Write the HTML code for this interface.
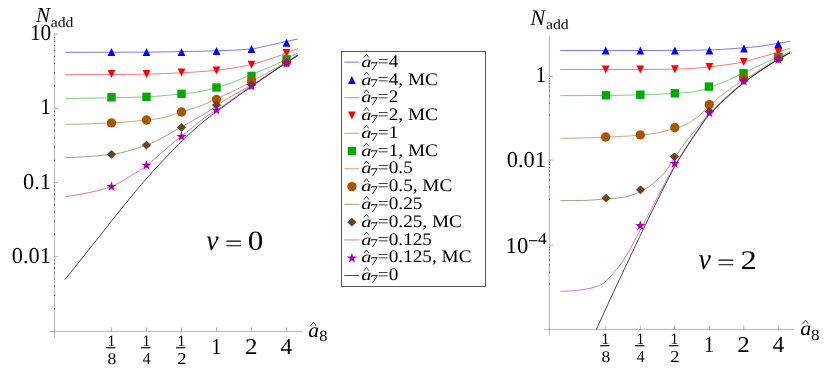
<!DOCTYPE html>
<html lang="en">
<head>
<meta charset="utf-8">
<title>N_add vs a8</title>
<style>
html, body { margin: 0; padding: 0; background: #ffffff; }
body { width: 830px; height: 375px; position: relative; overflow: hidden;
       font-family: "Liberation Serif", serif; }
svg text { fill: #000; }
</style>
</head>
<body>
<svg width="830" height="375" viewBox="0 0 830 375" style="position:absolute;left:0;top:0;display:block;will-change:transform;text-rendering:geometricPrecision" font-family='"Liberation Serif", serif'>
<rect x="0" y="0" width="830" height="375" fill="#ffffff"/>
<g stroke="#000" stroke-width="0.3" fill="none">
<path d="M54.5 33.5 V337.4"/>
<path d="M49 331.4 H302.4"/>
<path d="M111.5 331.4 v-4"/>
<path d="M146.5 331.4 v-4"/>
<path d="M181.5 331.4 v-4"/>
<path d="M216.5 331.4 v-4"/>
<path d="M251.5 331.4 v-4"/>
<path d="M286.5 331.4 v-4"/>
<path d="M54.5 34.1 h3.6"/>
<path d="M54.5 108.3 h3.6"/>
<path d="M54.5 182.5 h3.6"/>
<path d="M54.5 256.7 h3.6"/>
</g>
<g stroke="#000" stroke-opacity="0.8" stroke-width="0.75" fill="none">
<path d="M54 85.96 h1.1"/>
<path d="M54 72.9 h1.1"/>
<path d="M54 63.63 h1.1"/>
<path d="M54 56.44 h1.1"/>
<path d="M54 50.56 h1.1"/>
<path d="M54 45.59 h1.1"/>
<path d="M54 41.29 h1.1"/>
<path d="M54 37.5 h1.1"/>
<path d="M54 160.16 h1.1"/>
<path d="M54 147.1 h1.1"/>
<path d="M54 137.83 h1.1"/>
<path d="M54 130.64 h1.1"/>
<path d="M54 124.76 h1.1"/>
<path d="M54 119.79 h1.1"/>
<path d="M54 115.49 h1.1"/>
<path d="M54 111.7 h1.1"/>
<path d="M54 234.36 h1.1"/>
<path d="M54 221.3 h1.1"/>
<path d="M54 212.03 h1.1"/>
<path d="M54 204.84 h1.1"/>
<path d="M54 198.96 h1.1"/>
<path d="M54 193.99 h1.1"/>
<path d="M54 189.69 h1.1"/>
<path d="M54 185.9 h1.1"/>
<path d="M54 308.56 h1.1"/>
<path d="M54 295.5 h1.1"/>
<path d="M54 286.23 h1.1"/>
<path d="M54 279.04 h1.1"/>
<path d="M54 273.16 h1.1"/>
<path d="M54 268.19 h1.1"/>
<path d="M54 263.89 h1.1"/>
<path d="M54 260.1 h1.1"/>
</g>
<g stroke="#000" stroke-width="0.3" fill="none">
<path d="M549.4 35.6 V335.6"/>
<path d="M544 329.4 H794"/>
<path d="M605.5 329.4 v-3.6"/>
<path d="M640.4 329.4 v-3.6"/>
<path d="M674.5 329.4 v-3.6"/>
<path d="M709.4 329.4 v-3.6"/>
<path d="M743.7 329.4 v-3.6"/>
<path d="M778.4 329.4 v-3.6"/>
<path d="M549.4 76.4 h3.6"/>
<path d="M549.4 160.1 h3.6"/>
<path d="M549.4 245.2 h3.6"/>
</g>
<g stroke="#000" stroke-opacity="0.8" stroke-width="0.75" fill="none">
<path d="M548.9 114.94 h1.1"/>
<path d="M548.9 103.11 h1.1"/>
<path d="M548.9 96.01 h1.1"/>
<path d="M548.9 90.91 h1.1"/>
<path d="M548.9 86.94 h1.1"/>
<path d="M548.9 83.68 h1.1"/>
<path d="M548.9 80.92 h1.1"/>
<path d="M548.9 78.52 h1.1"/>
<path d="M548.9 199.28 h1.1"/>
<path d="M548.9 187.26 h1.1"/>
<path d="M548.9 180.04 h1.1"/>
<path d="M548.9 174.86 h1.1"/>
<path d="M548.9 170.81 h1.1"/>
<path d="M548.9 167.5 h1.1"/>
<path d="M548.9 164.69 h1.1"/>
<path d="M548.9 162.25 h1.1"/>
<path d="M548.9 284.06 h1.1"/>
<path d="M548.9 272.14 h1.1"/>
<path d="M548.9 264.97 h1.1"/>
<path d="M548.9 259.83 h1.1"/>
<path d="M548.9 255.83 h1.1"/>
<path d="M548.9 252.54 h1.1"/>
<path d="M548.9 249.75 h1.1"/>
<path d="M548.9 247.34 h1.1"/>
</g>
<g fill="none" stroke-width="0.55" stroke-linejoin="round">
<path d="M65.3 52.25 L67.25 52.25 L69.21 52.25 L71.16 52.25 L73.12 52.25 L75.07 52.25 L77.03 52.25 L78.98 52.24 L80.94 52.24 L82.89 52.24 L84.85 52.24 L86.8 52.24 L88.76 52.23 L90.71 52.23 L92.66 52.23 L94.62 52.23 L96.57 52.22 L98.53 52.22 L100.48 52.22 L102.44 52.21 L104.39 52.21 L106.35 52.21 L108.3 52.21 L110.26 52.2 L112.21 52.2 L114.17 52.2 L116.12 52.19 L118.07 52.19 L120.03 52.18 L121.98 52.18 L123.94 52.18 L125.89 52.17 L127.85 52.17 L129.8 52.16 L131.76 52.16 L133.71 52.15 L135.67 52.14 L137.62 52.14 L139.58 52.13 L141.53 52.12 L143.48 52.11 L145.44 52.1 L147.39 52.1 L149.35 52.08 L151.3 52.07 L153.26 52.05 L155.21 52.03 L157.17 52 L159.12 51.98 L161.08 51.95 L163.03 51.92 L164.99 51.89 L166.94 51.86 L168.89 51.82 L170.85 51.79 L172.8 51.76 L174.76 51.72 L176.71 51.69 L178.67 51.65 L180.62 51.62 L182.58 51.58 L184.53 51.55 L186.49 51.51 L188.44 51.48 L190.4 51.44 L192.35 51.4 L194.31 51.36 L196.26 51.32 L198.21 51.28 L200.17 51.24 L202.12 51.19 L204.08 51.15 L206.03 51.1 L207.99 51.05 L209.94 51 L211.9 50.94 L213.85 50.88 L215.81 50.82 L217.76 50.76 L219.72 50.69 L221.67 50.63 L223.62 50.56 L225.58 50.49 L227.53 50.41 L229.49 50.33 L231.44 50.24 L233.4 50.15 L235.35 50.05 L237.31 49.94 L239.26 49.83 L241.22 49.71 L243.17 49.58 L245.13 49.44 L247.08 49.28 L249.03 49.12 L250.99 48.95 L252.94 48.73 L254.9 48.41 L256.85 48.02 L258.81 47.59 L260.76 47.16 L262.72 46.75 L264.67 46.35 L266.63 45.93 L268.58 45.51 L270.54 45.07 L272.49 44.64 L274.44 44.19 L276.4 43.75 L278.35 43.3 L280.31 42.86 L282.26 42.41 L284.22 41.97 L286.17 41.53 L288.13 41.09 L290.08 40.65 L292.04 40.22 L293.99 39.78 L295.95 39.34 L297.9 38.9" stroke="#0000ff"/>
<path d="M65.3 74.6 L67.25 74.6 L69.21 74.6 L71.16 74.6 L73.12 74.6 L75.07 74.59 L77.03 74.59 L78.98 74.59 L80.94 74.59 L82.89 74.58 L84.85 74.58 L86.8 74.58 L88.76 74.57 L90.71 74.57 L92.66 74.56 L94.62 74.56 L96.57 74.55 L98.53 74.54 L100.48 74.54 L102.44 74.53 L104.39 74.53 L106.35 74.52 L108.3 74.51 L110.26 74.5 L112.21 74.5 L114.17 74.49 L116.12 74.48 L118.07 74.46 L120.03 74.45 L121.98 74.43 L123.94 74.41 L125.89 74.39 L127.85 74.37 L129.8 74.35 L131.76 74.33 L133.71 74.3 L135.67 74.27 L137.62 74.24 L139.58 74.21 L141.53 74.18 L143.48 74.15 L145.44 74.12 L147.39 74.08 L149.35 74.04 L151.3 74 L153.26 73.95 L155.21 73.89 L157.17 73.83 L159.12 73.77 L161.08 73.7 L163.03 73.63 L164.99 73.55 L166.94 73.47 L168.89 73.39 L170.85 73.3 L172.8 73.22 L174.76 73.13 L176.71 73.03 L178.67 72.94 L180.62 72.84 L182.58 72.75 L184.53 72.64 L186.49 72.54 L188.44 72.43 L190.4 72.31 L192.35 72.19 L194.31 72.06 L196.26 71.93 L198.21 71.79 L200.17 71.64 L202.12 71.49 L204.08 71.34 L206.03 71.18 L207.99 71.01 L209.94 70.83 L211.9 70.65 L213.85 70.46 L215.81 70.27 L217.76 70.07 L219.72 69.85 L221.67 69.62 L223.62 69.37 L225.58 69.11 L227.53 68.84 L229.49 68.55 L231.44 68.25 L233.4 67.94 L235.35 67.61 L237.31 67.28 L239.26 66.93 L241.22 66.56 L243.17 66.19 L245.13 65.81 L247.08 65.41 L249.03 65 L250.99 64.59 L252.94 64.15 L254.9 63.66 L256.85 63.13 L258.81 62.57 L260.76 61.98 L262.72 61.36 L264.67 60.74 L266.63 60.11 L268.58 59.48 L270.54 58.83 L272.49 58.17 L274.44 57.49 L276.4 56.79 L278.35 56.08 L280.31 55.35 L282.26 54.62 L284.22 53.89 L286.17 53.15 L288.13 52.4 L290.08 51.64 L292.04 50.87 L293.99 50.09 L295.95 49.3 L297.9 48.5" stroke="#ff0000"/>
<path d="M65.3 98.4 L67.25 98.39 L69.21 98.38 L71.16 98.37 L73.12 98.35 L75.07 98.34 L77.03 98.32 L78.98 98.3 L80.94 98.28 L82.89 98.25 L84.85 98.23 L86.8 98.2 L88.76 98.18 L90.71 98.15 L92.66 98.12 L94.62 98.09 L96.57 98.06 L98.53 98.03 L100.48 97.99 L102.44 97.96 L104.39 97.93 L106.35 97.89 L108.3 97.86 L110.26 97.82 L112.21 97.79 L114.17 97.75 L116.12 97.71 L118.07 97.67 L120.03 97.63 L121.98 97.58 L123.94 97.54 L125.89 97.49 L127.85 97.44 L129.8 97.38 L131.76 97.33 L133.71 97.27 L135.67 97.21 L137.62 97.14 L139.58 97.07 L141.53 97 L143.48 96.92 L145.44 96.84 L147.39 96.76 L149.35 96.66 L151.3 96.55 L153.26 96.43 L155.21 96.3 L157.17 96.16 L159.12 96 L161.08 95.84 L163.03 95.67 L164.99 95.5 L166.94 95.32 L168.89 95.13 L170.85 94.95 L172.8 94.76 L174.76 94.56 L176.71 94.37 L178.67 94.18 L180.62 93.99 L182.58 93.8 L184.53 93.61 L186.49 93.41 L188.44 93.21 L190.4 92.99 L192.35 92.76 L194.31 92.5 L196.26 92.21 L198.21 91.88 L200.17 91.52 L202.12 91.13 L204.08 90.71 L206.03 90.26 L207.99 89.79 L209.94 89.31 L211.9 88.81 L213.85 88.3 L215.81 87.78 L217.76 87.26 L219.72 86.69 L221.67 86.1 L223.62 85.48 L225.58 84.83 L227.53 84.16 L229.49 83.48 L231.44 82.78 L233.4 82.05 L235.35 81.29 L237.31 80.51 L239.26 79.71 L241.22 78.9 L243.17 78.08 L245.13 77.25 L247.08 76.42 L249.03 75.59 L250.99 74.77 L252.94 73.96 L254.9 73.16 L256.85 72.37 L258.81 71.58 L260.76 70.8 L262.72 70.01 L264.67 69.21 L266.63 68.41 L268.58 67.59 L270.54 66.76 L272.49 65.9 L274.44 65.03 L276.4 64.13 L278.35 63.21 L280.31 62.24 L282.26 61.19 L284.22 60.07 L286.17 58.97 L288.13 57.92 L290.08 56.89 L292.04 55.87 L293.99 54.86 L295.95 53.87 L297.9 52.9" stroke="#00aa00"/>
<path d="M65.3 124.3 L67.25 124.3 L69.21 124.28 L71.16 124.27 L73.12 124.24 L75.07 124.21 L77.03 124.17 L78.98 124.13 L80.94 124.08 L82.89 124.03 L84.85 123.97 L86.8 123.91 L88.76 123.85 L90.71 123.78 L92.66 123.71 L94.62 123.63 L96.57 123.55 L98.53 123.47 L100.48 123.39 L102.44 123.31 L104.39 123.22 L106.35 123.13 L108.3 123.04 L110.26 122.96 L112.21 122.87 L114.17 122.77 L116.12 122.66 L118.07 122.54 L120.03 122.4 L121.98 122.26 L123.94 122.11 L125.89 121.95 L127.85 121.79 L129.8 121.62 L131.76 121.44 L133.71 121.26 L135.67 121.07 L137.62 120.88 L139.58 120.69 L141.53 120.5 L143.48 120.3 L145.44 120.11 L147.39 119.91 L149.35 119.72 L151.3 119.52 L153.26 119.31 L155.21 119.08 L157.17 118.83 L159.12 118.54 L161.08 118.21 L163.03 117.8 L164.99 117.31 L166.94 116.76 L168.89 116.17 L170.85 115.53 L172.8 114.87 L174.76 114.2 L176.71 113.52 L178.67 112.86 L180.62 112.21 L182.58 111.6 L184.53 111 L186.49 110.4 L188.44 109.81 L190.4 109.21 L192.35 108.6 L194.31 107.97 L196.26 107.33 L198.21 106.67 L200.17 105.98 L202.12 105.25 L204.08 104.49 L206.03 103.64 L207.99 102.72 L209.94 101.74 L211.9 100.74 L213.85 99.76 L215.81 98.83 L217.76 97.96 L219.72 97.13 L221.67 96.32 L223.62 95.52 L225.58 94.72 L227.53 93.9 L229.49 93.03 L231.44 92.13 L233.4 91.19 L235.35 90.24 L237.31 89.26 L239.26 88.25 L241.22 87.23 L243.17 86.19 L245.13 85.13 L247.08 84.02 L249.03 82.87 L250.99 81.73 L252.94 80.63 L254.9 79.54 L256.85 78.47 L258.81 77.41 L260.76 76.35 L262.72 75.3 L264.67 74.25 L266.63 73.2 L268.58 72.15 L270.54 71.09 L272.49 70.03 L274.44 68.95 L276.4 67.86 L278.35 66.75 L280.31 65.62 L282.26 64.46 L284.22 63.27 L286.17 62.08 L288.13 60.89 L290.08 59.7 L292.04 58.5 L293.99 57.31 L295.95 56.11 L297.9 54.9" stroke="#aa5500"/>
<path d="M65.3 157.5 L67.25 157.49 L69.21 157.47 L71.16 157.43 L73.12 157.38 L75.07 157.31 L77.03 157.24 L78.98 157.14 L80.94 157.04 L82.89 156.93 L84.85 156.8 L86.8 156.67 L88.76 156.52 L90.71 156.37 L92.66 156.2 L94.62 156.03 L96.57 155.85 L98.53 155.67 L100.48 155.48 L102.44 155.28 L104.39 155.08 L106.35 154.87 L108.3 154.66 L110.26 154.44 L112.21 154.22 L114.17 153.96 L116.12 153.66 L118.07 153.32 L120.03 152.94 L121.98 152.52 L123.94 152.07 L125.89 151.59 L127.85 151.09 L129.8 150.55 L131.76 149.99 L133.71 149.41 L135.67 148.8 L137.62 148.18 L139.58 147.55 L141.53 146.9 L143.48 146.24 L145.44 145.57 L147.39 144.88 L149.35 144.11 L151.3 143.27 L153.26 142.36 L155.21 141.41 L157.17 140.43 L159.12 139.44 L161.08 138.45 L163.03 137.42 L164.99 136.36 L166.94 135.26 L168.89 134.15 L170.85 133.01 L172.8 131.87 L174.76 130.72 L176.71 129.56 L178.67 128.42 L180.62 127.29 L182.58 126.17 L184.53 125.08 L186.49 124 L188.44 122.93 L190.4 121.86 L192.35 120.79 L194.31 119.72 L196.26 118.64 L198.21 117.55 L200.17 116.44 L202.12 115.3 L204.08 114.14 L206.03 112.94 L207.99 111.71 L209.94 110.44 L211.9 109.04 L213.85 107.54 L215.81 106.08 L217.76 104.76 L219.72 103.48 L221.67 102.23 L223.62 101.01 L225.58 99.81 L227.53 98.64 L229.49 97.48 L231.44 96.34 L233.4 95.22 L235.35 94.1 L237.31 93 L239.26 91.9 L241.22 90.81 L243.17 89.72 L245.13 88.63 L247.08 87.58 L249.03 86.55 L250.99 85.49 L252.94 84.36 L254.9 83.18 L256.85 81.98 L258.81 80.75 L260.76 79.5 L262.72 78.22 L264.67 76.93 L266.63 75.63 L268.58 74.31 L270.54 72.98 L272.49 71.66 L274.44 70.33 L276.4 69 L278.35 67.68 L280.31 66.36 L282.26 65.06 L284.22 63.78 L286.17 62.51 L288.13 61.26 L290.08 60.02 L292.04 58.78 L293.99 57.55 L295.95 56.32 L297.9 55.1" stroke="#664422"/>
<path d="M65.3 196.5 L67.25 196.3 L69.21 196.07 L71.16 195.81 L73.12 195.53 L75.07 195.24 L77.03 194.92 L78.98 194.58 L80.94 194.23 L82.89 193.86 L84.85 193.47 L86.8 193.08 L88.76 192.67 L90.71 192.25 L92.66 191.82 L94.62 191.39 L96.57 190.94 L98.53 190.46 L100.48 189.95 L102.44 189.41 L104.39 188.84 L106.35 188.23 L108.3 187.58 L110.26 186.9 L112.21 186.17 L114.17 185.35 L116.12 184.45 L118.07 183.48 L120.03 182.44 L121.98 181.36 L123.94 180.24 L125.89 179 L127.85 177.64 L129.8 176.33 L131.76 175.14 L133.71 174.03 L135.67 172.95 L137.62 171.85 L139.58 170.67 L141.53 169.36 L143.48 167.87 L145.44 166.29 L147.39 164.72 L149.35 163.13 L151.3 161.52 L153.26 159.89 L155.21 158.24 L157.17 156.58 L159.12 154.92 L161.08 153.24 L163.03 151.57 L164.99 149.89 L166.94 148.22 L168.89 146.55 L170.85 144.89 L172.8 143.24 L174.76 141.61 L176.71 140 L178.67 138.41 L180.62 136.84 L182.58 135.31 L184.53 133.79 L186.49 132.28 L188.44 130.75 L190.4 129.2 L192.35 127.62 L194.31 126.01 L196.26 124.4 L198.21 122.8 L200.17 121.22 L202.12 119.67 L204.08 118.16 L206.03 116.71 L207.99 115.33 L209.94 114.04 L211.9 112.87 L213.85 111.81 L215.81 110.72 L217.76 109.51 L219.72 108.24 L221.67 106.92 L223.62 105.56 L225.58 104.17 L227.53 102.76 L229.49 101.32 L231.44 99.87 L233.4 98.42 L235.35 96.97 L237.31 95.53 L239.26 94.11 L241.22 92.71 L243.17 91.34 L245.13 90.02 L247.08 88.74 L249.03 87.49 L250.99 86.23 L252.94 84.95 L254.9 83.66 L256.85 82.36 L258.81 81.06 L260.76 79.75 L262.72 78.43 L264.67 77.11 L266.63 75.79 L268.58 74.47 L270.54 73.15 L272.49 71.83 L274.44 70.51 L276.4 69.2 L278.35 67.89 L280.31 66.58 L282.26 65.28 L284.22 63.99 L286.17 62.71 L288.13 61.44 L290.08 60.18 L292.04 58.93 L293.99 57.68 L295.95 56.44 L297.9 55.2" stroke="#aa00aa"/>
<path d="M65 279.7 L66.96 277.23 L68.91 274.77 L70.87 272.3 L72.83 269.84 L74.79 267.37 L76.74 264.9 L78.7 262.44 L80.66 259.97 L82.61 257.5 L84.57 255.04 L86.53 252.57 L88.49 250.1 L90.44 247.64 L92.4 245.17 L94.36 242.7 L96.31 240.23 L98.27 237.76 L100.23 235.28 L102.19 232.8 L104.14 230.31 L106.1 227.83 L108.06 225.35 L110.01 222.87 L111.97 220.4 L113.93 217.94 L115.89 215.49 L117.84 213.06 L119.8 210.64 L121.76 208.23 L123.71 205.81 L125.67 203.4 L127.63 201 L129.59 198.6 L131.54 196.21 L133.5 193.84 L135.46 191.48 L137.41 189.14 L139.37 186.82 L141.33 184.53 L143.29 182.25 L145.24 180.01 L147.2 177.79 L149.16 175.58 L151.11 173.4 L153.07 171.24 L155.03 169.09 L156.99 166.96 L158.94 164.85 L160.9 162.75 L162.86 160.67 L164.81 158.61 L166.77 156.56 L168.73 154.52 L170.69 152.49 L172.64 150.48 L174.6 148.47 L176.56 146.49 L178.51 144.52 L180.47 142.57 L182.43 140.65 L184.39 138.75 L186.34 136.88 L188.3 135.04 L190.26 133.22 L192.21 131.42 L194.17 129.64 L196.13 127.88 L198.09 126.16 L200.04 124.46 L202 122.81 L203.96 121.19 L205.91 119.61 L207.87 118.09 L209.83 116.61 L211.79 115.16 L213.74 113.72 L215.7 112.29 L217.66 110.85 L219.61 109.4 L221.57 107.97 L223.53 106.53 L225.49 105.1 L227.44 103.68 L229.4 102.26 L231.36 100.84 L233.31 99.42 L235.27 98.01 L237.23 96.61 L239.19 95.21 L241.14 93.81 L243.1 92.42 L245.06 91.03 L247.01 89.65 L248.97 88.27 L250.93 86.9 L252.89 85.53 L254.84 84.17 L256.8 82.81 L258.76 81.45 L260.71 80.09 L262.67 78.75 L264.63 77.4 L266.59 76.06 L268.54 74.72 L270.5 73.39 L272.46 72.06 L274.41 70.74 L276.37 69.43 L278.33 68.11 L280.29 66.81 L282.24 65.51 L284.2 64.21 L286.16 62.93 L288.11 61.65 L290.07 60.38 L292.03 59.12 L293.99 57.88 L295.94 56.64 L297.9 55.4" stroke="#000000" stroke-width="0.72"/>
<path d="M560.4 50.5 L562.05 50.5 L563.7 50.5 L565.36 50.5 L567.01 50.5 L568.66 50.5 L570.31 50.5 L571.96 50.5 L573.61 50.5 L575.27 50.5 L576.92 50.5 L578.57 50.5 L580.22 50.5 L581.87 50.5 L583.53 50.5 L585.18 50.5 L586.83 50.5 L588.48 50.5 L590.13 50.5 L591.78 50.5 L593.44 50.5 L595.09 50.5 L596.74 50.5 L598.39 50.5 L600.04 50.5 L601.69 50.5 L603.35 50.5 L605 50.5 L606.65 50.5 L608.3 50.5 L609.95 50.5 L611.61 50.5 L613.26 50.5 L614.91 50.5 L616.56 50.5 L618.21 50.5 L619.86 50.5 L621.52 50.5 L623.17 50.5 L624.82 50.5 L626.47 50.5 L628.12 50.5 L629.78 50.5 L631.43 50.5 L633.08 50.5 L634.73 50.5 L636.38 50.5 L638.03 50.5 L639.69 50.5 L641.34 50.5 L642.99 50.5 L644.64 50.5 L646.29 50.5 L647.95 50.5 L649.6 50.5 L651.25 50.49 L652.9 50.49 L654.55 50.49 L656.2 50.49 L657.86 50.49 L659.51 50.48 L661.16 50.48 L662.81 50.48 L664.46 50.47 L666.12 50.47 L667.77 50.47 L669.42 50.46 L671.07 50.46 L672.72 50.46 L674.37 50.45 L676.03 50.45 L677.68 50.44 L679.33 50.43 L680.98 50.42 L682.63 50.4 L684.28 50.38 L685.94 50.36 L687.59 50.34 L689.24 50.32 L690.89 50.29 L692.54 50.26 L694.2 50.24 L695.85 50.2 L697.5 50.17 L699.15 50.14 L700.8 50.1 L702.45 50.07 L704.11 50.03 L705.76 49.99 L707.41 49.95 L709.06 49.91 L710.71 49.86 L712.37 49.81 L714.02 49.75 L715.67 49.68 L717.32 49.61 L718.97 49.53 L720.62 49.44 L722.28 49.34 L723.93 49.24 L725.58 49.14 L727.23 49.03 L728.88 48.92 L730.54 48.81 L732.19 48.69 L733.84 48.57 L735.49 48.44 L737.14 48.32 L738.79 48.2 L740.45 48.07 L742.1 47.94 L743.75 47.82 L745.4 47.69 L747.05 47.56 L748.71 47.43 L750.36 47.29 L752.01 47.14 L753.66 46.98 L755.31 46.82 L756.96 46.64 L758.62 46.46 L760.27 46.27 L761.92 46.05 L763.57 45.81 L765.22 45.55 L766.87 45.27 L768.53 44.98 L770.18 44.68 L771.83 44.37 L773.48 44.07 L775.13 43.77 L776.79 43.47 L778.44 43.19 L780.09 42.92 L781.74 42.65 L783.39 42.38 L785.04 42.11 L786.7 41.84 L788.35 41.57 L790 41.3" stroke="#0000ff"/>
<path d="M560.4 69.5 L562.05 69.5 L563.7 69.5 L565.36 69.5 L567.01 69.5 L568.66 69.5 L570.31 69.5 L571.96 69.5 L573.61 69.5 L575.27 69.5 L576.92 69.5 L578.57 69.5 L580.22 69.5 L581.87 69.5 L583.53 69.5 L585.18 69.5 L586.83 69.5 L588.48 69.5 L590.13 69.5 L591.78 69.5 L593.44 69.5 L595.09 69.5 L596.74 69.5 L598.39 69.5 L600.04 69.5 L601.69 69.5 L603.35 69.5 L605 69.5 L606.65 69.5 L608.3 69.5 L609.95 69.5 L611.61 69.5 L613.26 69.5 L614.91 69.5 L616.56 69.49 L618.21 69.49 L619.86 69.49 L621.52 69.49 L623.17 69.49 L624.82 69.48 L626.47 69.48 L628.12 69.48 L629.78 69.47 L631.43 69.47 L633.08 69.47 L634.73 69.46 L636.38 69.46 L638.03 69.46 L639.69 69.45 L641.34 69.45 L642.99 69.44 L644.64 69.44 L646.29 69.43 L647.95 69.42 L649.6 69.41 L651.25 69.4 L652.9 69.39 L654.55 69.38 L656.2 69.37 L657.86 69.35 L659.51 69.34 L661.16 69.32 L662.81 69.31 L664.46 69.29 L666.12 69.27 L667.77 69.25 L669.42 69.23 L671.07 69.2 L672.72 69.18 L674.37 69.16 L676.03 69.13 L677.68 69.09 L679.33 69.04 L680.98 68.97 L682.63 68.9 L684.28 68.82 L685.94 68.74 L687.59 68.64 L689.24 68.54 L690.89 68.44 L692.54 68.33 L694.2 68.21 L695.85 68.1 L697.5 67.98 L699.15 67.86 L700.8 67.74 L702.45 67.6 L704.11 67.45 L705.76 67.29 L707.41 67.12 L709.06 66.94 L710.71 66.75 L712.37 66.56 L714.02 66.37 L715.67 66.17 L717.32 65.97 L718.97 65.77 L720.62 65.56 L722.28 65.34 L723.93 65.12 L725.58 64.89 L727.23 64.65 L728.88 64.41 L730.54 64.16 L732.19 63.9 L733.84 63.64 L735.49 63.36 L737.14 63.08 L738.79 62.79 L740.45 62.48 L742.1 62.17 L743.75 61.85 L745.4 61.5 L747.05 61.12 L748.71 60.69 L750.36 60.24 L752.01 59.77 L753.66 59.28 L755.31 58.78 L756.96 58.29 L758.62 57.8 L760.27 57.32 L761.92 56.86 L763.57 56.39 L765.22 55.92 L766.87 55.44 L768.53 54.97 L770.18 54.49 L771.83 54 L773.48 53.51 L775.13 53.01 L776.79 52.5 L778.44 51.99 L780.09 51.46 L781.74 50.92 L783.39 50.38 L785.04 49.82 L786.7 49.25 L788.35 48.68 L790 48.1" stroke="#ff0000"/>
<path d="M560.4 95.6 L562.05 95.6 L563.7 95.6 L565.36 95.6 L567.01 95.6 L568.66 95.59 L570.31 95.59 L571.96 95.59 L573.61 95.58 L575.27 95.58 L576.92 95.58 L578.57 95.57 L580.22 95.57 L581.87 95.56 L583.53 95.56 L585.18 95.55 L586.83 95.54 L588.48 95.54 L590.13 95.53 L591.78 95.52 L593.44 95.51 L595.09 95.51 L596.74 95.5 L598.39 95.49 L600.04 95.48 L601.69 95.47 L603.35 95.46 L605 95.45 L606.65 95.44 L608.3 95.43 L609.95 95.41 L611.61 95.4 L613.26 95.38 L614.91 95.35 L616.56 95.33 L618.21 95.3 L619.86 95.27 L621.52 95.24 L623.17 95.21 L624.82 95.17 L626.47 95.14 L628.12 95.1 L629.78 95.06 L631.43 95.02 L633.08 94.98 L634.73 94.94 L636.38 94.9 L638.03 94.86 L639.69 94.81 L641.34 94.77 L642.99 94.72 L644.64 94.67 L646.29 94.62 L647.95 94.56 L649.6 94.5 L651.25 94.43 L652.9 94.37 L654.55 94.3 L656.2 94.23 L657.86 94.15 L659.51 94.08 L661.16 94 L662.81 93.92 L664.46 93.84 L666.12 93.75 L667.77 93.67 L669.42 93.59 L671.07 93.5 L672.72 93.41 L674.37 93.32 L676.03 93.23 L677.68 93.15 L679.33 93.06 L680.98 92.97 L682.63 92.87 L684.28 92.77 L685.94 92.65 L687.59 92.52 L689.24 92.37 L690.89 92.2 L692.54 91.99 L694.2 91.73 L695.85 91.42 L697.5 91.08 L699.15 90.71 L700.8 90.31 L702.45 89.88 L704.11 89.43 L705.76 88.97 L707.41 88.44 L709.06 87.8 L710.71 87.1 L712.37 86.41 L714.02 85.78 L715.67 85.17 L717.32 84.57 L718.97 83.97 L720.62 83.36 L722.28 82.73 L723.93 82.07 L725.58 81.38 L727.23 80.66 L728.88 79.92 L730.54 79.16 L732.19 78.38 L733.84 77.59 L735.49 76.79 L737.14 75.99 L738.79 75.19 L740.45 74.39 L742.1 73.6 L743.75 72.82 L745.4 72.04 L747.05 71.27 L748.71 70.49 L750.36 69.71 L752.01 68.93 L753.66 68.15 L755.31 67.38 L756.96 66.61 L758.62 65.84 L760.27 65.08 L761.92 64.32 L763.57 63.57 L765.22 62.82 L766.87 62.08 L768.53 61.34 L770.18 60.6 L771.83 59.86 L773.48 59.12 L775.13 58.38 L776.79 57.63 L778.44 56.88 L780.09 56.13 L781.74 55.38 L783.39 54.63 L785.04 53.87 L786.7 53.12 L788.35 52.36 L790 51.6" stroke="#00aa00"/>
<path d="M560.4 138.4 L562.05 138.38 L563.7 138.35 L565.36 138.32 L567.01 138.29 L568.66 138.26 L570.31 138.23 L571.96 138.19 L573.61 138.15 L575.27 138.12 L576.92 138.08 L578.57 138.04 L580.22 137.99 L581.87 137.95 L583.53 137.9 L585.18 137.86 L586.83 137.8 L588.48 137.75 L590.13 137.7 L591.78 137.64 L593.44 137.58 L595.09 137.52 L596.74 137.46 L598.39 137.39 L600.04 137.33 L601.69 137.26 L603.35 137.19 L605 137.12 L606.65 137.05 L608.3 136.98 L609.95 136.91 L611.61 136.84 L613.26 136.77 L614.91 136.69 L616.56 136.62 L618.21 136.54 L619.86 136.46 L621.52 136.38 L623.17 136.29 L624.82 136.21 L626.47 136.11 L628.12 136.02 L629.78 135.92 L631.43 135.82 L633.08 135.71 L634.73 135.6 L636.38 135.48 L638.03 135.35 L639.69 135.23 L641.34 135.09 L642.99 134.93 L644.64 134.75 L646.29 134.56 L647.95 134.35 L649.6 134.13 L651.25 133.89 L652.9 133.64 L654.55 133.37 L656.2 133.09 L657.86 132.77 L659.51 132.42 L661.16 132.05 L662.81 131.65 L664.46 131.22 L666.12 130.78 L667.77 130.33 L669.42 129.86 L671.07 129.38 L672.72 128.9 L674.37 128.42 L676.03 127.95 L677.68 127.47 L679.33 126.97 L680.98 126.44 L682.63 125.86 L684.28 125.22 L685.94 124.46 L687.59 123.55 L689.24 122.52 L690.89 121.45 L692.54 120.38 L694.2 119.33 L695.85 118.25 L697.5 117.1 L699.15 115.85 L700.8 114.4 L702.45 112.7 L704.11 110.99 L705.76 109.37 L707.41 107.78 L709.06 106.22 L710.71 104.71 L712.37 103.23 L714.02 101.76 L715.67 100.33 L717.32 98.92 L718.97 97.54 L720.62 96.19 L722.28 94.87 L723.93 93.57 L725.58 92.3 L727.23 91.06 L728.88 89.87 L730.54 88.72 L732.19 87.61 L733.84 86.52 L735.49 85.45 L737.14 84.4 L738.79 83.38 L740.45 82.38 L742.1 81.37 L743.75 80.36 L745.4 79.32 L747.05 78.25 L748.71 77.18 L750.36 76.08 L752.01 74.98 L753.66 73.87 L755.31 72.76 L756.96 71.64 L758.62 70.53 L760.27 69.42 L761.92 68.32 L763.57 67.23 L765.22 66.16 L766.87 65.11 L768.53 64.08 L770.18 63.07 L771.83 62.09 L773.48 61.14 L775.13 60.23 L776.79 59.39 L778.44 58.58 L780.09 57.74 L781.74 56.88 L783.39 56.02 L785.04 55.16 L786.7 54.28 L788.35 53.4 L790 52.5" stroke="#aa5500"/>
<path d="M560.4 200.6 L562.05 200.6 L563.7 200.6 L565.36 200.59 L567.01 200.59 L568.66 200.58 L570.31 200.57 L571.96 200.56 L573.61 200.54 L575.27 200.53 L576.92 200.51 L578.57 200.49 L580.22 200.47 L581.87 200.45 L583.53 200.42 L585.18 200.4 L586.83 200.35 L588.48 200.27 L590.13 200.16 L591.78 200.04 L593.44 199.91 L595.09 199.77 L596.74 199.64 L598.39 199.48 L600.04 199.3 L601.69 199.12 L603.35 198.94 L605 198.79 L606.65 198.66 L608.3 198.57 L609.95 198.49 L611.61 198.42 L613.26 198.33 L614.91 198.23 L616.56 198.1 L618.21 197.94 L619.86 197.75 L621.52 197.53 L623.17 197.29 L624.82 197.01 L626.47 196.68 L628.12 196.26 L629.78 195.77 L631.43 195.23 L633.08 194.65 L634.73 194.05 L636.38 193.38 L638.03 192.62 L639.69 191.81 L641.34 190.98 L642.99 190.13 L644.64 189.24 L646.29 188.3 L647.95 187.29 L649.6 186.19 L651.25 184.92 L652.9 183.55 L654.55 182.17 L656.2 180.74 L657.86 179.27 L659.51 177.77 L661.16 176.26 L662.81 174.64 L664.46 172.75 L666.12 170.53 L667.77 168.19 L669.42 165.69 L671.07 163.12 L672.72 160.53 L674.37 158.03 L676.03 155.62 L677.68 153.23 L679.33 150.87 L680.98 148.54 L682.63 146.24 L684.28 143.99 L685.94 141.78 L687.59 139.63 L689.24 137.55 L690.89 135.53 L692.54 133.55 L694.2 131.59 L695.85 129.61 L697.5 127.6 L699.15 125.54 L700.8 123.49 L702.45 121.47 L704.11 119.52 L705.76 117.66 L707.41 115.87 L709.06 114.14 L710.71 112.48 L712.37 110.82 L714.02 109.17 L715.67 107.54 L717.32 105.91 L718.97 104.3 L720.62 102.71 L722.28 101.13 L723.93 99.56 L725.58 98.01 L727.23 96.48 L728.88 94.97 L730.54 93.48 L732.19 92.01 L733.84 90.56 L735.49 89.14 L737.14 87.73 L738.79 86.36 L740.45 85.01 L742.1 83.69 L743.75 82.39 L745.4 81.13 L747.05 79.88 L748.71 78.65 L750.36 77.45 L752.01 76.26 L753.66 75.09 L755.31 73.94 L756.96 72.81 L758.62 71.69 L760.27 70.58 L761.92 69.49 L763.57 68.41 L765.22 67.35 L766.87 66.3 L768.53 65.25 L770.18 64.22 L771.83 63.2 L773.48 62.18 L775.13 61.17 L776.79 60.17 L778.44 59.18 L780.09 58.2 L781.74 57.24 L783.39 56.3 L785.04 55.38 L786.7 54.48 L788.35 53.58 L790 52.7" stroke="#664422"/>
<path d="M560.4 291.3 L562.05 291.29 L563.7 291.25 L565.36 291.2 L567.01 291.14 L568.66 291.06 L570.31 290.98 L571.96 290.88 L573.61 290.74 L575.27 290.57 L576.92 290.38 L578.57 290.18 L580.22 289.97 L581.87 289.76 L583.53 289.52 L585.18 289.26 L586.83 288.98 L588.48 288.67 L590.13 288.32 L591.78 287.92 L593.44 287.48 L595.09 286.98 L596.74 286.43 L598.39 285.82 L600.04 285.12 L601.69 284.28 L603.35 283.27 L605 281.98 L606.65 280.44 L608.3 278.8 L609.95 277.03 L611.61 275.15 L613.26 273.24 L614.91 271.3 L616.56 269.31 L618.21 267.27 L619.86 265.18 L621.52 262.98 L623.17 260.58 L624.82 258.01 L626.47 255.3 L628.12 252.5 L629.78 249.65 L631.43 246.68 L633.08 243.61 L634.73 240.47 L636.38 237.32 L638.03 234.18 L639.69 231.07 L641.34 227.97 L642.99 224.87 L644.64 221.76 L646.29 218.64 L647.95 215.5 L649.6 212.35 L651.25 209.18 L652.9 206.02 L654.55 202.87 L656.2 199.73 L657.86 196.59 L659.51 193.42 L661.16 190.24 L662.81 187.06 L664.46 183.89 L666.12 180.74 L667.77 177.63 L669.42 174.56 L671.07 171.54 L672.72 168.6 L674.37 165.73 L676.03 162.94 L677.68 160.22 L679.33 157.56 L680.98 154.95 L682.63 152.38 L684.28 149.84 L685.94 147.33 L687.59 144.84 L689.24 142.35 L690.89 139.86 L692.54 137.4 L694.2 134.97 L695.85 132.57 L697.5 130.16 L699.15 127.73 L700.8 125.23 L702.45 122.73 L704.11 120.36 L705.76 118.21 L707.41 116.21 L709.06 114.36 L710.71 112.61 L712.37 110.89 L714.02 109.19 L715.67 107.52 L717.32 105.87 L718.97 104.24 L720.62 102.64 L722.28 101.06 L723.93 99.51 L725.58 97.98 L727.23 96.47 L728.88 94.99 L730.54 93.53 L732.19 92.09 L733.84 90.67 L735.49 89.27 L737.14 87.89 L738.79 86.54 L740.45 85.2 L742.1 83.89 L743.75 82.59 L745.4 81.32 L747.05 80.06 L748.71 78.83 L750.36 77.61 L752.01 76.41 L753.66 75.23 L755.31 74.06 L756.96 72.91 L758.62 71.78 L760.27 70.66 L761.92 69.55 L763.57 68.46 L765.22 67.38 L766.87 66.32 L768.53 65.27 L770.18 64.22 L771.83 63.2 L773.48 62.18 L775.13 61.17 L776.79 60.17 L778.44 59.18 L780.09 58.21 L781.74 57.26 L783.39 56.33 L785.04 55.43 L786.7 54.54 L788.35 53.66 L790 52.8" stroke="#aa00aa"/>
<path d="M596.4 329.4 L597.79 326.33 L599.19 323.28 L600.58 320.22 L601.97 317.18 L603.36 314.14 L604.76 311.1 L606.15 308.08 L607.54 305.06 L608.94 302.04 L610.33 299.03 L611.72 296.03 L613.11 293.04 L614.51 290.05 L615.9 287.08 L617.29 284.11 L618.68 281.14 L620.08 278.19 L621.47 275.23 L622.86 272.28 L624.26 269.33 L625.65 266.38 L627.04 263.43 L628.43 260.47 L629.83 257.51 L631.22 254.55 L632.61 251.6 L634.01 248.65 L635.4 245.7 L636.79 242.76 L638.18 239.84 L639.58 236.92 L640.97 234.02 L642.36 231.13 L643.76 228.24 L645.15 225.35 L646.54 222.48 L647.93 219.61 L649.33 216.75 L650.72 213.9 L652.11 211.06 L653.51 208.23 L654.9 205.42 L656.29 202.62 L657.68 199.83 L659.08 197.05 L660.47 194.25 L661.86 191.45 L663.25 188.66 L664.65 185.87 L666.04 183.1 L667.43 180.36 L668.83 177.66 L670.22 174.99 L671.61 172.37 L673 169.81 L674.4 167.31 L675.79 164.88 L677.18 162.49 L678.58 160.15 L679.97 157.86 L681.36 155.6 L682.75 153.37 L684.15 151.17 L685.54 148.99 L686.93 146.84 L688.33 144.7 L689.72 142.57 L691.11 140.44 L692.5 138.33 L693.9 136.27 L695.29 134.24 L696.68 132.22 L698.07 130.2 L699.47 128.16 L700.86 126.05 L702.25 123.92 L703.65 121.84 L705.04 119.9 L706.43 118.14 L707.82 116.53 L709.22 115.01 L710.61 113.54 L712 112.09 L713.4 110.65 L714.79 109.23 L716.18 107.82 L717.57 106.42 L718.97 105.04 L720.36 103.67 L721.75 102.32 L723.15 100.98 L724.54 99.66 L725.93 98.35 L727.32 97.06 L728.72 95.78 L730.11 94.52 L731.5 93.27 L732.89 92.04 L734.29 90.82 L735.68 89.62 L737.07 88.44 L738.47 87.27 L739.86 86.12 L741.25 84.99 L742.64 83.87 L744.04 82.77 L745.43 81.69 L746.82 80.62 L748.22 79.56 L749.61 78.52 L751 77.49 L752.39 76.48 L753.79 75.47 L755.18 74.48 L756.57 73.5 L757.97 72.54 L759.36 71.58 L760.75 70.63 L762.14 69.7 L763.54 68.77 L764.93 67.85 L766.32 66.95 L767.72 66.05 L769.11 65.16 L770.5 64.28 L771.89 63.4 L773.29 62.53 L774.68 61.67 L776.07 60.82 L777.46 59.97 L778.86 59.12 L780.25 58.3 L781.64 57.49 L783.04 56.69 L784.43 55.91 L785.82 55.15 L787.21 54.39 L788.61 53.64 L790 52.9" stroke="#000000" stroke-width="0.72"/>
</g>
<path d="M111.5 47.9 L115.4 55.9 L107.6 55.9 Z" fill="#0000ff"/>
<path d="M146.5 48 L150.4 56 L142.6 56 Z" fill="#0000ff"/>
<path d="M181.5 47.9 L185.4 55.9 L177.6 55.9 Z" fill="#0000ff"/>
<path d="M216.5 47 L220.4 55 L212.6 55 Z" fill="#0000ff"/>
<path d="M251.5 45 L255.4 53 L247.6 53 Z" fill="#0000ff"/>
<path d="M286.5 38.8 L290.4 46.8 L282.6 46.8 Z" fill="#0000ff"/>
<path d="M111.5 77.9 L115.4 69.9 L107.6 69.9 Z" fill="#ff0000"/>
<path d="M146.5 77.9 L150.4 69.9 L142.6 69.9 Z" fill="#ff0000"/>
<path d="M181.5 76.6 L185.4 68.6 L177.6 68.6 Z" fill="#ff0000"/>
<path d="M216.5 74.4 L220.4 66.4 L212.6 66.4 Z" fill="#ff0000"/>
<path d="M251.5 68.7 L255.4 60.7 L247.6 60.7 Z" fill="#ff0000"/>
<path d="M286.5 57 L290.4 49 L282.6 49 Z" fill="#ff0000"/>
<rect x="107.3" y="93.1" width="8.4" height="8.4" fill="#00aa00"/>
<rect x="142.3" y="92.6" width="8.4" height="8.4" fill="#00aa00"/>
<rect x="177.3" y="89.6" width="8.4" height="8.4" fill="#00aa00"/>
<rect x="212.3" y="83.3" width="8.4" height="8.4" fill="#00aa00"/>
<rect x="247.3" y="71.7" width="8.4" height="8.4" fill="#00aa00"/>
<rect x="282.3" y="55.1" width="8.4" height="8.4" fill="#00aa00"/>
<circle cx="111.5" cy="122.9" r="4.7" fill="#aa5500"/>
<circle cx="146.5" cy="120" r="4.7" fill="#aa5500"/>
<circle cx="181.5" cy="112" r="4.7" fill="#aa5500"/>
<circle cx="216.5" cy="99.5" r="4.7" fill="#aa5500"/>
<circle cx="251.5" cy="81.3" r="4.7" fill="#aa5500"/>
<circle cx="286.5" cy="62.1" r="4.7" fill="#aa5500"/>
<path d="M111.5 149.9 L116.1 154.3 L111.5 158.7 L106.9 154.3 Z" fill="#664422"/>
<path d="M146.5 140.7 L151.1 145.1 L146.5 149.5 L141.9 145.1 Z" fill="#664422"/>
<path d="M181.5 123 L186.1 127.4 L181.5 131.8 L176.9 127.4 Z" fill="#664422"/>
<path d="M216.5 100.6 L221.1 105 L216.5 109.4 L211.9 105 Z" fill="#664422"/>
<path d="M251.5 80.2 L256.1 84.6 L251.5 89 L246.9 84.6 Z" fill="#664422"/>
<path d="M286.5 58.1 L291.1 62.5 L286.5 66.9 L281.9 62.5 Z" fill="#664422"/>
<polygon points="111.5,181.2 112.73,184.9 116.64,184.93 113.5,187.25 114.67,190.97 111.5,188.7 108.33,190.97 109.5,187.25 106.36,184.93 110.27,184.9" fill="#aa00aa"/>
<polygon points="146.5,160 147.73,163.7 151.64,163.73 148.5,166.05 149.67,169.77 146.5,167.5 143.33,169.77 144.5,166.05 141.36,163.73 145.27,163.7" fill="#aa00aa"/>
<polygon points="181.5,131.3 182.73,135 186.64,135.03 183.5,137.35 184.67,141.07 181.5,138.8 178.33,141.07 179.5,137.35 176.36,135.03 180.27,135" fill="#aa00aa"/>
<polygon points="216.5,104.7 217.73,108.4 221.64,108.43 218.5,110.75 219.67,114.47 216.5,112.2 213.33,114.47 214.5,110.75 211.36,108.43 215.27,108.4" fill="#aa00aa"/>
<polygon points="251.5,80.7 252.73,84.4 256.64,84.43 253.5,86.75 254.67,90.47 251.5,88.2 248.33,90.47 249.5,86.75 246.36,84.43 250.27,84.4" fill="#aa00aa"/>
<polygon points="286.5,58 287.73,61.7 291.64,61.73 288.5,64.05 289.67,67.77 286.5,65.5 283.33,67.77 284.5,64.05 281.36,61.73 285.27,61.7" fill="#aa00aa"/>
<path d="M605.7 46.5 L609.6 54.5 L601.8 54.5 Z" fill="#0000ff"/>
<path d="M640.3 46.5 L644.2 54.5 L636.4 54.5 Z" fill="#0000ff"/>
<path d="M674.9 46.5 L678.8 54.5 L671 54.5 Z" fill="#0000ff"/>
<path d="M709.4 46.6 L713.3 54.6 L705.5 54.6 Z" fill="#0000ff"/>
<path d="M744 44.4 L747.9 52.4 L740.1 52.4 Z" fill="#0000ff"/>
<path d="M778.2 39.9 L782.1 47.9 L774.3 47.9 Z" fill="#0000ff"/>
<path d="M605.7 73.4 L609.6 65.4 L601.8 65.4 Z" fill="#ff0000"/>
<path d="M640.3 73.4 L644.2 65.4 L636.4 65.4 Z" fill="#ff0000"/>
<path d="M674.9 73.2 L678.8 65.2 L671 65.2 Z" fill="#ff0000"/>
<path d="M709.4 71.1 L713.3 63.1 L705.5 63.1 Z" fill="#ff0000"/>
<path d="M743.7 66 L747.6 58 L739.8 58 Z" fill="#ff0000"/>
<path d="M778.4 56.1 L782.3 48.1 L774.5 48.1 Z" fill="#ff0000"/>
<rect x="601.8" y="91.1" width="8.4" height="8.4" fill="#00aa00"/>
<rect x="636.1" y="90.5" width="8.4" height="8.4" fill="#00aa00"/>
<rect x="670.7" y="89.1" width="8.4" height="8.4" fill="#00aa00"/>
<rect x="704.7" y="82.4" width="8.4" height="8.4" fill="#00aa00"/>
<rect x="739.3" y="69.1" width="8.4" height="8.4" fill="#00aa00"/>
<rect x="774.2" y="52.7" width="8.4" height="8.4" fill="#00aa00"/>
<circle cx="605.7" cy="137" r="4.7" fill="#aa5500"/>
<circle cx="640.3" cy="134.9" r="4.7" fill="#aa5500"/>
<circle cx="674.8" cy="127.8" r="4.7" fill="#aa5500"/>
<circle cx="709.3" cy="104.6" r="4.7" fill="#aa5500"/>
<circle cx="743.7" cy="78.3" r="4.7" fill="#aa5500"/>
<circle cx="778.3" cy="57.9" r="4.7" fill="#aa5500"/>
<path d="M606.1 193.8 L610.7 198.2 L606.1 202.6 L601.5 198.2 Z" fill="#664422"/>
<path d="M640.5 185.4 L645.1 189.8 L640.5 194.2 L635.9 189.8 Z" fill="#664422"/>
<path d="M674.4 152.4 L679 156.8 L674.4 161.2 L669.8 156.8 Z" fill="#664422"/>
<path d="M709.4 106.8 L714 111.2 L709.4 115.6 L704.8 111.2 Z" fill="#664422"/>
<path d="M744 76.2 L748.6 80.6 L744 85 L739.4 80.6 Z" fill="#664422"/>
<path d="M778.4 54.3 L783 58.7 L778.4 63.1 L773.8 58.7 Z" fill="#664422"/>
<polygon points="640.3,220.4 641.53,224.1 645.44,224.13 642.3,226.45 643.47,230.17 640.3,227.9 637.13,230.17 638.3,226.45 635.16,224.13 639.07,224.1" fill="#aa00aa"/>
<polygon points="674.7,158.3 675.93,162 679.84,162.03 676.7,164.35 677.87,168.07 674.7,165.8 671.53,168.07 672.7,164.35 669.56,162.03 673.47,162" fill="#aa00aa"/>
<polygon points="709.3,107.5 710.53,111.2 714.44,111.23 711.3,113.55 712.47,117.27 709.3,115 706.13,117.27 707.3,113.55 704.16,111.23 708.07,111.2" fill="#aa00aa"/>
<polygon points="743.7,75.7 744.93,79.4 748.84,79.43 745.7,81.75 746.87,85.47 743.7,83.2 740.53,85.47 741.7,81.75 738.56,79.43 742.47,79.4" fill="#aa00aa"/>
<polygon points="778.4,54.3 779.63,58 783.54,58.03 780.4,60.35 781.57,64.07 778.4,61.8 775.23,64.07 776.4,60.35 773.26,58.03 777.17,58" fill="#aa00aa"/>
<text transform="translate(29.88 39.82) scale(0.9377 1)" font-size="22.8">10</text>
<text transform="translate(40.55 114) scale(0.9023 1)" font-size="22.8">1</text>
<text transform="translate(23.11 188.76) scale(0.9764 1)" font-size="22.8">0.1</text>
<text transform="translate(11.81 262.96) scale(0.9809 1)" font-size="22.8">0.01</text>
<text transform="translate(535.67 82) scale(0.8897 1)" font-size="22.8">1</text>
<text transform="translate(506.7 166.66) scale(0.9835 1)" font-size="22.8">0.01</text>
<text transform="translate(505.56 252.57) scale(0.9931 1)" font-size="22.8">10</text>
<text transform="translate(528.08 248.01) scale(0.8407 1)" font-size="22">&#8722;</text>
<text transform="translate(538.05 244.08) scale(1.0814 1)" font-size="16.31">4</text>
<text transform="translate(107.51 346.3) scale(0.9717 1)" font-size="15.88">1</text>
<rect x="106.1" y="347.15" width="9.3" height="1.15" fill="#000"/>
<text transform="translate(107.4 364.14) scale(1.0812 1)" font-size="16.3">8</text>
<text transform="translate(142.51 346.3) scale(0.9717 1)" font-size="15.88">1</text>
<rect x="141.1" y="347.15" width="9.3" height="1.15" fill="#000"/>
<text transform="translate(142.78 364.38) scale(0.9404 1)" font-size="16.92">4</text>
<text transform="translate(177.51 346.3) scale(0.9717 1)" font-size="15.88">1</text>
<rect x="176.1" y="347.15" width="9.3" height="1.15" fill="#000"/>
<text transform="translate(177.27 364.3) scale(1.1100 1)" font-size="16.67">2</text>
<text transform="translate(211.17 354) scale(0.8918 1)" font-size="22.75">1</text>
<text transform="translate(244.97 354) scale(1.1074 1)" font-size="22.58">2</text>
<text transform="translate(280.53 354.01) scale(1.0295 1)" font-size="22.77">4</text>
<text transform="translate(601.51 344.3) scale(0.9717 1)" font-size="15.88">1</text>
<rect x="600.1" y="345.15" width="9.3" height="1.15" fill="#000"/>
<text transform="translate(601.4 362.14) scale(1.0812 1)" font-size="16.3">8</text>
<text transform="translate(636.41 344.3) scale(0.9717 1)" font-size="15.88">1</text>
<rect x="635" y="345.15" width="9.3" height="1.15" fill="#000"/>
<text transform="translate(636.68 362.38) scale(0.9404 1)" font-size="16.92">4</text>
<text transform="translate(670.51 344.3) scale(0.9717 1)" font-size="15.88">1</text>
<rect x="669.1" y="345.15" width="9.3" height="1.15" fill="#000"/>
<text transform="translate(670.27 362.3) scale(1.1100 1)" font-size="16.67">2</text>
<text transform="translate(704.07 352) scale(0.8918 1)" font-size="22.75">1</text>
<text transform="translate(737.18 352) scale(1.1074 1)" font-size="22.58">2</text>
<text transform="translate(772.43 352.01) scale(1.0295 1)" font-size="22.77">4</text>
<text transform="translate(35.9 22.2) scale(0.9740 1)" font-size="21.54" font-style="italic">N</text>
<text transform="translate(50.65 26.66) scale(1.1039 1)" font-size="14.29">add</text>
<text transform="translate(530.21 25.4) scale(1.0164 1)" font-size="22.15" font-style="italic">N</text>
<text transform="translate(545.95 29.36) scale(1.1151 1)" font-size="14.14">add</text>
<text transform="translate(308.15 336.99) scale(1.0486 1)" font-size="20.62" font-style="italic">a</text>
<path d="M310.7 325.6 L313.4 322.2 L316.1 325.6" fill="none" stroke="#000" stroke-width="0.85" stroke-linejoin="miter"/>
<text transform="translate(319.34 340.74) scale(1.0462 1)" font-size="15.7">8</text>
<text transform="translate(800.24 335.4) scale(1.0821 1)" font-size="20.42" font-style="italic">a</text>
<path d="M802.9 323.7 L805.6 320.4 L808.3 323.7" fill="none" stroke="#000" stroke-width="0.85" stroke-linejoin="miter"/>
<text transform="translate(811.01 339.55) scale(1.1126 1)" font-size="15.41">8</text>
<text transform="translate(206.28 250.01) scale(0.9393 1)" font-size="29.46" font-style="italic">&#957;</text>
<text transform="translate(224.74 251.27) scale(1.3677 1)" font-size="22.8">=</text>
<text transform="translate(247.65 250.42) scale(1.1199 1)" font-size="27.85">0</text>
<text transform="translate(698.58 268.9) scale(0.9336 1)" font-size="29.89" font-style="italic">&#957;</text>
<text transform="translate(717.02 269.97) scale(1.3865 1)" font-size="22.8">=</text>
<text transform="translate(740.54 269.1) scale(1.2051 1)" font-size="26.97">2</text>
<rect x="341.5" y="51.5" width="144" height="235" fill="#fff" stroke="#000" stroke-width="0.66"/>
<path d="M344.3 62.15 H359.4" stroke="#0000ff" stroke-width="0.55" fill="none"/>
<text transform="translate(361.29 66.74) scale(1.3011 1)" font-size="15.73" font-style="italic">a</text>
<path d="M363.9 57.45 L366.4 54.25 L368.9 57.45" fill="none" stroke="#000" stroke-width="0.75"/>
<text transform="translate(370.29 69.51) scale(1.3304 1)" font-size="11.69">7</text>
<text transform="translate(377.84 66.75) scale(1.0880 1)" font-size="17.7">=4</text>
<path d="M351.9 75.93 L355.8 83.93 L348 83.93 Z" fill="#0000ff"/>
<text transform="translate(361.29 84.52) scale(1.3011 1)" font-size="15.73" font-style="italic">a</text>
<path d="M363.9 75.23 L366.4 72.03 L368.9 75.23" fill="none" stroke="#000" stroke-width="0.75"/>
<text transform="translate(370.29 87.29) scale(1.3304 1)" font-size="11.69">7</text>
<text transform="translate(377.84 84.53) scale(1.0880 1)" font-size="17.7">=4, MC</text>
<path d="M344.3 97.71 H359.4" stroke="#ff0000" stroke-width="0.55" fill="none"/>
<text transform="translate(361.29 102.3) scale(1.3011 1)" font-size="15.73" font-style="italic">a</text>
<path d="M363.9 93.01 L366.4 89.81 L368.9 93.01" fill="none" stroke="#000" stroke-width="0.75"/>
<text transform="translate(370.29 105.07) scale(1.3304 1)" font-size="11.69">7</text>
<text transform="translate(377.84 102.31) scale(1.0880 1)" font-size="17.7">=2</text>
<path d="M351.9 119.49 L355.8 111.49 L348 111.49 Z" fill="#ff0000"/>
<text transform="translate(361.29 120.08) scale(1.3011 1)" font-size="15.73" font-style="italic">a</text>
<path d="M363.9 110.79 L366.4 107.59 L368.9 110.79" fill="none" stroke="#000" stroke-width="0.75"/>
<text transform="translate(370.29 122.85) scale(1.3304 1)" font-size="11.69">7</text>
<text transform="translate(377.84 120.09) scale(1.0880 1)" font-size="17.7">=2, MC</text>
<path d="M344.3 133.27 H359.4" stroke="#00aa00" stroke-width="0.55" fill="none"/>
<text transform="translate(361.29 137.86) scale(1.3011 1)" font-size="15.73" font-style="italic">a</text>
<path d="M363.9 128.57 L366.4 125.37 L368.9 128.57" fill="none" stroke="#000" stroke-width="0.75"/>
<text transform="translate(370.29 140.63) scale(1.3304 1)" font-size="11.69">7</text>
<text transform="translate(377.84 137.87) scale(1.0880 1)" font-size="17.7">=1</text>
<rect x="347.7" y="146.85" width="8.4" height="8.4" fill="#00aa00"/>
<text transform="translate(361.29 155.64) scale(1.3011 1)" font-size="15.73" font-style="italic">a</text>
<path d="M363.9 146.35 L366.4 143.15 L368.9 146.35" fill="none" stroke="#000" stroke-width="0.75"/>
<text transform="translate(370.29 158.41) scale(1.3304 1)" font-size="11.69">7</text>
<text transform="translate(377.84 155.65) scale(1.0880 1)" font-size="17.7">=1, MC</text>
<path d="M344.3 168.83 H359.4" stroke="#aa5500" stroke-width="0.55" fill="none"/>
<text transform="translate(361.29 173.42) scale(1.3011 1)" font-size="15.73" font-style="italic">a</text>
<path d="M363.9 164.13 L366.4 160.93 L368.9 164.13" fill="none" stroke="#000" stroke-width="0.75"/>
<text transform="translate(370.29 176.19) scale(1.3304 1)" font-size="11.69">7</text>
<text transform="translate(377.84 173.43) scale(1.0880 1)" font-size="17.7">=0.5</text>
<circle cx="351.9" cy="186.61" r="4.7" fill="#aa5500"/>
<text transform="translate(361.29 191.2) scale(1.3011 1)" font-size="15.73" font-style="italic">a</text>
<path d="M363.9 181.91 L366.4 178.71 L368.9 181.91" fill="none" stroke="#000" stroke-width="0.75"/>
<text transform="translate(370.29 193.97) scale(1.3304 1)" font-size="11.69">7</text>
<text transform="translate(377.84 191.21) scale(1.0880 1)" font-size="17.7">=0.5, MC</text>
<path d="M344.3 204.39 H359.4" stroke="#664422" stroke-width="0.55" fill="none"/>
<text transform="translate(361.29 208.98) scale(1.3011 1)" font-size="15.73" font-style="italic">a</text>
<path d="M363.9 199.69 L366.4 196.49 L368.9 199.69" fill="none" stroke="#000" stroke-width="0.75"/>
<text transform="translate(370.29 211.75) scale(1.3304 1)" font-size="11.69">7</text>
<text transform="translate(377.84 208.99) scale(1.0880 1)" font-size="17.7">=0.25</text>
<path d="M351.9 217.77 L356.5 222.17 L351.9 226.57 L347.3 222.17 Z" fill="#664422"/>
<text transform="translate(361.29 226.76) scale(1.3011 1)" font-size="15.73" font-style="italic">a</text>
<path d="M363.9 217.47 L366.4 214.27 L368.9 217.47" fill="none" stroke="#000" stroke-width="0.75"/>
<text transform="translate(370.29 229.53) scale(1.3304 1)" font-size="11.69">7</text>
<text transform="translate(377.84 226.77) scale(1.0880 1)" font-size="17.7">=0.25, MC</text>
<path d="M344.3 239.95 H359.4" stroke="#aa00aa" stroke-width="0.55" fill="none"/>
<text transform="translate(361.29 244.54) scale(1.3011 1)" font-size="15.73" font-style="italic">a</text>
<path d="M363.9 235.25 L366.4 232.05 L368.9 235.25" fill="none" stroke="#000" stroke-width="0.75"/>
<text transform="translate(370.29 247.31) scale(1.3304 1)" font-size="11.69">7</text>
<text transform="translate(377.84 244.55) scale(1.0880 1)" font-size="17.7">=0.125</text>
<polygon points="351.9,252.73 353.13,256.43 357.04,256.46 353.9,258.78 355.07,262.5 351.9,260.23 348.73,262.5 349.9,258.78 346.76,256.46 350.67,256.43" fill="#aa00aa"/>
<text transform="translate(361.29 262.32) scale(1.3011 1)" font-size="15.73" font-style="italic">a</text>
<path d="M363.9 253.03 L366.4 249.83 L368.9 253.03" fill="none" stroke="#000" stroke-width="0.75"/>
<text transform="translate(370.29 265.09) scale(1.3304 1)" font-size="11.69">7</text>
<text transform="translate(377.84 262.33) scale(1.0880 1)" font-size="17.7">=0.125, MC</text>
<path d="M344.3 275.51 H359.4" stroke="#000000" stroke-width="0.72" fill="none"/>
<text transform="translate(361.29 280.1) scale(1.3011 1)" font-size="15.73" font-style="italic">a</text>
<path d="M363.9 270.81 L366.4 267.61 L368.9 270.81" fill="none" stroke="#000" stroke-width="0.75"/>
<text transform="translate(370.29 282.87) scale(1.3304 1)" font-size="11.69">7</text>
<text transform="translate(377.84 280.11) scale(1.0880 1)" font-size="17.7">=0</text>
</svg>
</body>
</html>
